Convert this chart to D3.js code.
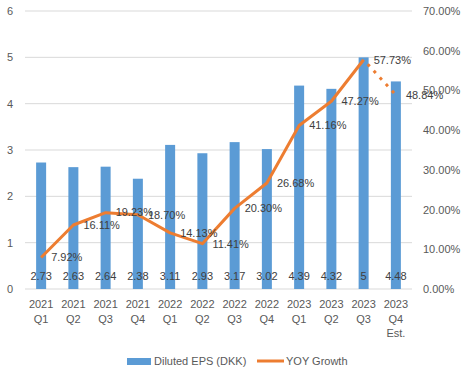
<html>
<head>
<meta charset="utf-8">
<script src="https://d3js.org/d3.v7.min.js"></script>
<style>
  body { margin: 0; background: #fff; }
  text { font-family: "Liberation Sans", Arial, sans-serif; }
</style>
</head>
<body>
<div id="chart"></div>
<script>
// data
var years = ["2021","2021","2021","2021","2022","2022","2022","2022","2023","2023","2023","2023"];
var quarters = ["Q1","Q2","Q3","Q4","Q1","Q2","Q3","Q4","Q1","Q2","Q3","Q4"];
var extraLine = ["","","","","","","","","","","","Est."];
var eps = [2.73, 2.63, 2.64, 2.38, 3.11, 2.93, 3.17, 3.02, 4.39, 4.32, 5, 4.48];
var yoy = [7.92, 16.11, 19.23, 18.70, 14.13, 11.41, 20.30, 26.68, 41.16, 47.27, 57.73, 48.84];
var leftTicks = [0, 1, 2, 3, 4, 5, 6];
var rightTicks = [0, 10, 20, 30, 40, 50, 60, 70];

var W = 465, H = 377;
var margin = {top: 11, right: 53, bottom: 88, left: 25};
var width = W - margin.left - margin.right,
    height = H - margin.top - margin.bottom;
var fs = "11px";

var svg = d3.select("#chart").append("svg")
    .attr("width", W).attr("height", H);
var g = svg.append("g")
    .attr("transform", "translate(" + margin.left + "," + margin.top + ")");

var idx = d3.range(eps.length);
var x = d3.scaleBand().domain(idx).range([0, width]).paddingInner(0.69).paddingOuter(0.345);
var y = d3.scaleLinear().domain([0, 6]).range([height, 0]);
var y2 = d3.scaleLinear().domain([0, 70]).range([height, 0]);

// gridlines
g.selectAll(".grid").data(leftTicks).enter().append("line")
  .attr("x1", 0).attr("x2", width)
  .attr("y1", function(d){ return y(d); }).attr("y2", function(d){ return y(d); })
  .attr("stroke", "#d9d9d9").attr("stroke-width", 1);

// left axis
var la = g.append("g").call(d3.axisLeft(y).tickValues(leftTicks).tickSize(0).tickPadding(12)
    .tickFormat(d3.format("d")));
la.select(".domain").remove();
la.selectAll("text").attr("fill", "#595959").style("font-size", fs);

// right axis
var ra = g.append("g").attr("transform", "translate(" + width + ",0)")
  .call(d3.axisRight(y2).tickValues(rightTicks).tickSize(0).tickPadding(11)
    .tickFormat(function(d){ return d.toFixed(2) + "%"; }));
ra.select(".domain").remove();
ra.selectAll("text").attr("fill", "#595959").style("font-size", fs);

// bars
g.selectAll(".bar").data(eps).enter().append("rect")
  .attr("x", function(d, i){ return x(i); })
  .attr("width", x.bandwidth())
  .attr("y", function(d){ return y(d); })
  .attr("height", function(d){ return height - y(d); })
  .attr("fill", "#5b9bd5");

// x labels
var cx = function(i){ return x(i) + x.bandwidth() / 2; };
var xl = g.append("g").selectAll("text").data(idx).enter().append("text")
  .attr("x", function(i){ return cx(i); })
  .attr("y", height + 19)
  .attr("text-anchor", "middle")
  .attr("fill", "#595959")
  .style("font-size", fs);
xl.append("tspan").attr("x", function(i){ return cx(i); }).text(function(i){ return years[i]; });
xl.append("tspan").attr("x", function(i){ return cx(i); }).attr("dy", 15).text(function(i){ return quarters[i]; });
xl.filter(function(i){ return extraLine[i] != ""; })
  .append("tspan").attr("x", function(i){ return cx(i); }).attr("dy", 14).text(function(i){ return extraLine[i]; });

// bar value labels at base
g.selectAll(".barlab").data(eps).enter().append("text")
  .attr("x", function(d, i){ return cx(i); })
  .attr("y", height - 9)
  .attr("text-anchor", "middle")
  .attr("fill", "#404040")
  .style("font-size", fs)
  .text(function(d){ return d; });

// YOY line, last segment dotted
var line = d3.line()
  .x(function(d){ return cx(d); })
  .y(function(d){ return y2(yoy[d]); });
g.append("path").datum(idx.slice(0, 11))
  .attr("d", line)
  .attr("fill", "none").attr("stroke", "#ed7d31").attr("stroke-width", 3)
  .attr("stroke-linejoin", "round");
g.append("path").datum(idx.slice(10))
  .attr("d", line)
  .attr("fill", "none").attr("stroke", "#ed7d31").attr("stroke-width", 3)
  .attr("stroke-dasharray", "3,6").attr("stroke-dashoffset", -6);

// line labels right of points
g.selectAll(".yoylab").data(yoy).enter().append("text")
  .attr("x", function(d, i){ return cx(i) + 10; })
  .attr("y", function(d){ return y2(d); })
  .attr("dy", "0.35em")
  .attr("fill", "#404040")
  .style("font-size", fs)
  .text(function(d){ return d.toFixed(2) + "%"; });

// legend
var lg = svg.append("g").attr("transform", "translate(0,361)");
lg.append("rect").attr("x", 127).attr("y", -3).attr("width", 24).attr("height", 7).attr("fill", "#5b9bd5");
lg.append("text").attr("x", 154).attr("y", 0).attr("dy", "0.35em").attr("fill", "#595959")
  .style("font-size", fs).text("Diluted EPS (DKK)");
lg.append("line").attr("x1", 257).attr("x2", 284).attr("y1", 0).attr("y2", 0)
  .attr("stroke", "#ed7d31").attr("stroke-width", 3);
lg.append("text").attr("x", 286).attr("y", 0).attr("dy", "0.35em").attr("fill", "#595959")
  .style("font-size", fs).text("YOY Growth");
</script>
</body>
</html>
